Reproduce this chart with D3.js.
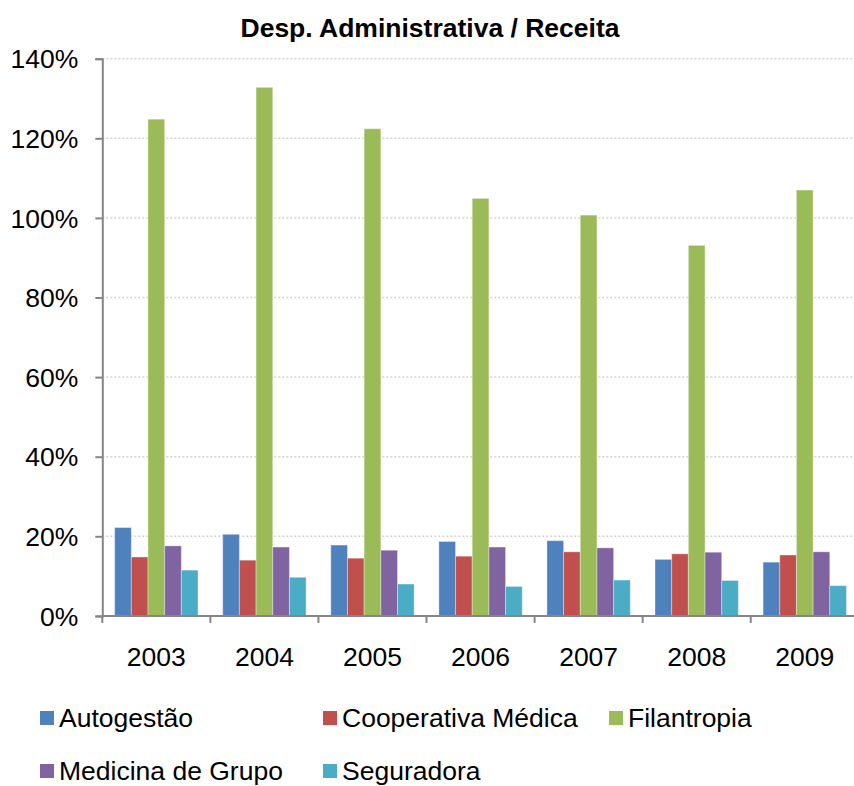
<!DOCTYPE html>
<html>
<head>
<meta charset="utf-8">
<script src="https://cdn.jsdelivr.net/npm/d3@7"></script>
<style>
  body { margin: 0; background: #fff; }
  svg { font-family: "Liberation Sans", Arial, sans-serif; }
</style>
</head>
<body>
<div id="chart"></div>
<script>
// data (percent)
var years = ["2003", "2004", "2005", "2006", "2007", "2008", "2009"];
var seriesNames = ["Autogestão", "Cooperativa Médica", "Filantropia", "Medicina de Grupo", "Seguradora"];
var autogestao = [22.2, 20.5, 17.8, 18.7, 18.9, 14.2, 13.5];
var cooperativa = [14.8, 14.0, 14.5, 15.0, 16.1, 15.6, 15.3];
var filantropia = [124.8, 132.8, 122.4, 104.9, 100.7, 93.1, 107.0];
var medicina = [17.6, 17.3, 16.5, 17.3, 17.1, 16.0, 16.1];
var seguradora = [11.5, 9.7, 8.0, 7.4, 9.0, 8.9, 7.6];
var yTicks = [0, 20, 40, 60, 80, 100, 120, 140];

var colors = ["#4F81BD", "#C0504D", "#9BBB59", "#8064A2", "#4BACC6"];
var allValues = [autogestao, cooperativa, filantropia, medicina, seguradora];

var svgWidth = 854;
var svgHeight = 786;
var fontSize = "26.5px";

var svg = d3.select("#chart")
    .append("svg")
    .attr("width", svgWidth)
    .attr("height", svgHeight);

// plot area
var plot = { left: 102.3, right: 858.8, top: 58.7, bottom: 615.9 };

var x0 = d3.scaleBand()
    .domain(years)
    .range([plot.left, plot.right]);

var gap = 12.35;
var x1 = d3.scaleBand()
    .domain(seriesNames)
    .range([gap, x0.bandwidth() - gap]);

var y = d3.scaleLinear()
    .domain([0, 140])
    .range([plot.bottom, plot.top]);

// title
svg.append("text")
    .attr("x", 430)
    .attr("y", 37)
    .attr("text-anchor", "middle")
    .style("font-size", fontSize)
    .style("font-weight", "bold")
    .text("Desp. Administrativa / Receita");

// gridlines
svg.append("g")
    .selectAll("line")
    .data(yTicks.filter(d => d > 0))
    .enter()
    .append("line")
    .attr("x1", plot.left)
    .attr("x2", svgWidth)
    .attr("y1", d => y(d))
    .attr("y2", d => y(d))
    .attr("stroke", "#d4d4d4")
    .attr("stroke-width", 1.5)
    .attr("stroke-dasharray", "2,2");

// bars
var rows = years.map(function (yr, i) {
    return { year: yr, vals: seriesNames.map((s, j) => ({ name: s, v: allValues[j][i], c: colors[j] })) };
});

var groups = svg.append("g")
    .selectAll("g")
    .data(rows)
    .enter()
    .append("g")
    .attr("transform", d => "translate(" + x0(d.year) + ",0)");

groups.selectAll("rect")
    .data(d => d.vals)
    .enter()
    .append("rect")
    .attr("x", d => x1(d.name))
    .attr("y", d => y(d.v))
    .attr("width", x1.bandwidth())
    .attr("height", d => plot.bottom - y(d.v))
    .attr("fill", d => d.c)
    .attr("stroke", "rgba(255,255,255,0.35)")
    .attr("stroke-width", 1);

// y axis
var yAxis = d3.axisLeft(y)
    .tickValues(yTicks)
    .tickFormat(d => d + "%")
    .tickSize(7)
    .tickPadding(17);

var yg = svg.append("g")
    .attr("transform", "translate(" + plot.left + ",0)")
    .call(yAxis);
yg.select(".domain").attr("stroke", "#868686").attr("stroke-width", 2);
yg.selectAll(".tick line").attr("stroke", "#868686").attr("stroke-width", 2);
yg.selectAll(".tick text")
    .style("font-size", fontSize)
    .style("font-family", "'Liberation Sans', Arial, sans-serif")
    .attr("fill", "#000")
    .attr("dy", "0.35em");

// x axis: line and ticks at category boundaries
var xg = svg.append("g")
    .attr("transform", "translate(0," + plot.bottom + ")");
xg.append("line")
    .attr("x1", plot.left)
    .attr("x2", svgWidth)
    .attr("stroke", "#868686")
    .attr("stroke-width", 2);
xg.selectAll(".xtick")
    .data(years)
    .enter()
    .append("line")
    .attr("class", "xtick")
    .attr("x1", d => x0(d))
    .attr("x2", d => x0(d))
    .attr("y1", 0)
    .attr("y2", 7)
    .attr("stroke", "#868686")
    .attr("stroke-width", 2);
xg.selectAll(".xlabel")
    .data(years)
    .enter()
    .append("text")
    .attr("class", "xlabel")
    .attr("x", d => x0(d) + x0.bandwidth() / 2)
    .attr("y", 50)
    .attr("text-anchor", "middle")
    .style("font-size", fontSize)
    .text(d => d);

// legend
var legendPos = [[40, 718], [323, 718], [609, 718], [40, 771], [323, 771]];
var legend = svg.append("g")
    .selectAll("g")
    .data(seriesNames)
    .enter()
    .append("g")
    .attr("transform", (d, i) => "translate(" + legendPos[i][0] + "," + legendPos[i][1] + ")");

legend.append("rect")
    .attr("x", 0)
    .attr("y", -7)
    .attr("width", 14)
    .attr("height", 14)
    .attr("fill", (d, i) => colors[i]);

legend.append("text")
    .attr("x", 19)
    .attr("y", 0)
    .attr("dy", "0.35em")
    .style("font-size", fontSize)
    .text(d => d);
</script>
</body>
</html>
